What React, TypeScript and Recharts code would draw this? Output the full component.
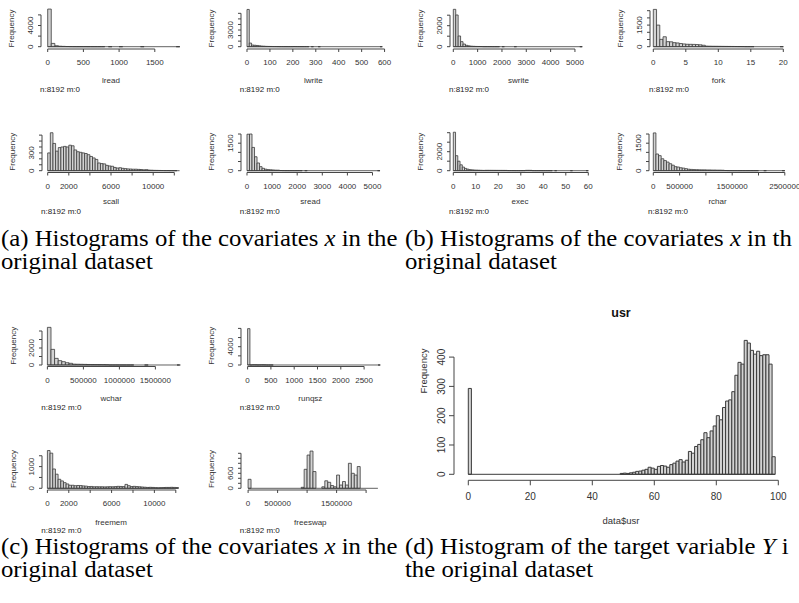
import React from 'react';
import { BarChart, Bar, XAxis, YAxis, ReferenceLine } from 'recharts';

const SANS = '"Liberation Sans", Arial, sans-serif';
const SERIF = '"Liberation Serif", "Times New Roman", serif';
const AXIS = '#444';
const INK = '#333';
const FILL = '#d3d3d3';
const EDGE = '#3a3a3a';

// bin counts (R hist output)
const lreadCounts = [7100, 620, 180, 90, 60, 30, 15, 10, 6, 4, 3, 2, 2, 1, 1, 1, 0, 1, 0, 0, 1, 0, 0, 0, 0, 0, 1, 0, 0, 0, 0, 0, 0, 0, 0, 0, 1];
const lwriteCounts = [6700, 650, 300, 260, 220, 170, 110, 90, 60, 50, 40, 30, 25, 18, 10, 8, 6, 5, 4, 5, 14, 8, 3, 2, 1, 1, 1, 0, 1, 0, 0, 1, 0, 0, 0, 0, 0, 0, 0, 0, 0, 0, 0, 0, 0, 0, 0, 0, 0, 0, 0, 0, 0, 0, 0, 0, 0, 0, 1];
const swriteCounts = [3560, 3020, 1020, 480, 250, 130, 80, 50, 35, 25, 20, 15, 5, 3, 2, 2, 1, 1, 1, 0, 1, 0, 0, 0, 0, 1, 0, 0, 0, 0, 0, 0, 0, 0, 0, 0, 0, 0, 0, 0, 0, 0, 0, 0, 0, 0, 0, 0, 0, 0, 0, 0, 1];
const forkCounts = [2590, 1500, 510, 690, 350, 340, 280, 260, 220, 190, 170, 165, 160, 150, 130, 100, 40, 35, 30, 28, 25, 22, 20, 18, 15, 12, 10, 8, 2, 1, 1, 0, 0, 0, 0, 0, 0, 0, 0, 1];
const scallCounts = [300, 640, 460, 330, 390, 400, 410, 400, 430, 420, 350, 320, 310, 300, 290, 270, 240, 215, 190, 130, 120, 115, 90, 80, 75, 55, 45, 50, 40, 35, 30, 28, 25, 25, 22, 20, 15, 18, 10, 8, 6, 5, 4, 3, 2, 2, 1, 1, 1, 0];
const sreadCounts = [1990, 2000, 1270, 760, 420, 220, 130, 80, 60, 50, 40, 30, 28, 10, 5, 3, 2, 2, 1, 1, 1, 1, 0, 1, 0, 0, 0, 0, 0, 0, 0, 0, 0, 0, 0, 0, 0, 0, 0, 0, 0, 0, 0, 0, 0, 0, 0, 0, 0, 0, 0, 0, 1];
const execCounts = [4050, 1580, 1000, 620, 380, 240, 160, 110, 90, 70, 60, 50, 40, 30, 40, 42, 40, 38, 36, 35, 34, 33, 32, 30, 12, 10, 8, 6, 5, 4, 4, 5, 38, 40, 36, 5, 3, 2, 2, 1, 1, 1, 1, 1, 0, 1, 0, 0, 0, 0, 0, 0, 1, 0, 0, 0, 0, 0, 0, 1];
const rcharCounts = [2060, 910, 820, 650, 550, 470, 380, 300, 220, 200, 160, 140, 110, 80, 70, 60, 55, 50, 45, 45, 40, 40, 35, 35, 30, 30, 25, 10, 5, 4, 3, 3, 2, 2, 1, 1, 1, 1, 1, 1, 0, 0, 1, 0, 0, 0, 0, 0, 0, 1];
const wcharCounts = [4430, 1840, 780, 510, 390, 270, 200, 100, 90, 80, 70, 60, 55, 50, 45, 40, 30, 5, 3, 2, 1, 1, 1, 1, 0, 0, 0, 1, 0, 0, 0, 0, 0, 0, 0, 0, 1];
const runqszCounts = [7950, 5, 50, 40, 15, 30, 40, 25, 3, 1, 1, 0, 0, 0, 0, 0, 0, 0, 0, 0, 0, 0, 0, 0, 0, 0, 0, 0, 0, 0, 0, 0, 0, 0, 0, 0, 0, 0, 0, 0, 0, 0, 0, 0, 0, 0, 0, 0, 0, 0, 0, 0, 0, 0, 0, 0, 1];
const freememCounts = [1740, 1620, 890, 650, 415, 340, 260, 200, 140, 140, 120, 130, 125, 110, 100, 80, 85, 70, 75, 70, 70, 65, 70, 75, 70, 80, 90, 85, 80, 180, 120, 80, 90, 80, 70, 60, 50, 40, 45, 40, 30, 25, 30, 35, 40, 40, 45, 40, 35];
const freeswapCounts = [360, 0, 0, 0, 0, 0, 0, 0, 0, 0, 0, 0, 0, 0, 0, 0, 0, 0, 40, 760, 1330, 1490, 670, 0, 0, 60, 300, 240, 110, 60, 530, 130, 270, 130, 1000, 600, 530, 870, 0, 0, 0, 0, 0, 0];
const usrCounts = [293, 0, 0, 0, 0, 0, 0, 0, 0, 0, 0, 0, 0, 0, 0, 0, 0, 0, 0, 0, 0, 0, 0, 0, 0, 0, 0, 0, 0, 0, 0, 0, 0, 0, 0, 0, 0, 0, 0, 0, 0, 0, 0, 0, 0, 0, 0, 0, 0,
  3, 4, 3, 5, 7, 10, 11, 14, 17, 24, 21, 17, 27, 30, 28, 24, 33, 38, 45, 50, 42, 48, 78, 72, 95, 102, 118, 142, 125, 148,
  165, 200, 186, 228, 250, 254, 282, 338, 382, 376, 457, 448, 423, 410, 420, 405, 408, 408, 376, 60];

// tick values and which of them R printed
const lreadXTicks = [0, 500, 1000, 1500];
const lreadYTicks = [0, 2000, 4000, 6000];
const lreadYLabels = [0, 4000];
const lwriteXTicks = [0, 100, 200, 300, 400, 500, 600];
const lwriteYTicks = [0, 1000, 2000, 3000, 4000, 5000, 6000];
const lwriteYLabels = [0, 3000];
const swriteXTicks = [0, 1000, 2000, 3000, 4000, 5000];
const swriteYTicks = [0, 1000, 2000, 3000];
const swriteYLabels = [0, 2000];
const forkXTicks = [0, 5, 10, 15, 20];
const forkYTicks = [0, 500, 1000, 1500, 2000, 2500];
const forkYLabels = [0, 1500];
const scallXTicks = [0, 2000, 4000, 6000, 8000, 10000, 12000];
const scallXLabels = [0, 2000, 6000, 10000];
const scallYTicks = [0, 100, 200, 300, 400, 500, 600];
const scallYLabels = [0, 300];
const sreadXTicks = [0, 1000, 2000, 3000, 4000, 5000];
const sreadYTicks = [0, 500, 1000, 1500, 2000];
const sreadYLabels = [0, 1500];
const execXTicks = [0, 10, 20, 30, 40, 50, 60];
const execYTicks = [0, 1000, 2000, 3000, 4000];
const execYLabels = [0, 2000];
const rcharXTicks = [0, 500000, 1000000, 1500000, 2000000, 2500000];
const rcharXLabels = [0, 500000, 1500000, 2500000];
const rcharYTicks = [0, 500, 1000, 1500, 2000];
const rcharYLabels = [0, 1500];
const wcharXTicks = [0, 500000, 1000000, 1500000];
const wcharYTicks = [0, 1000, 2000, 3000, 4000];
const wcharYLabels = [0, 2000];
const runqszXTicks = [0, 500, 1000, 1500, 2000, 2500];
const runqszYTicks = [0, 2000, 4000, 6000, 8000];
const runqszYLabels = [0, 4000];
const freememXTicks = [0, 2000, 4000, 6000, 8000, 10000, 12000];
const freememXLabels = [0, 2000, 6000, 10000];
const freememYTicks = [0, 500, 1000, 1500];
const freememYLabels = [0, 1000];
const freeswapXTicks = [0, 500000, 1000000, 1500000, 2000000];
const freeswapXLabels = [0, 500000, 1500000];
const freeswapYTicks = [0, 200, 400, 600, 800, 1000, 1200, 1400];
const freeswapYLabels = [0, 600];
const usrXTicks = [0, 20, 40, 60, 80, 100];
const usrYTicks = [0, 100, 200, 300, 400];

type Frame = { L: number; T: number; R: number; B: number; x0: number; kx: number; y0: number; ky: number };

type HistProps = {
  counts: number[];
  start: number;
  binWidth: number;
  xTicks: number[];
  xLabels?: number[];
  yTicks: number[];
  yLabels?: number[];
  frame: Frame;
  fontSize: number;
  tick: number;
  xMargin: number;
  yMargin: number;
  edge: number;
};

function Hist({ counts, start, binWidth, xTicks, xLabels, yTicks, yLabels, frame, fontSize, tick, xMargin, yMargin, edge }: HistProps) {
  const { L, T, R, B, x0, kx, y0, ky } = frame;
  const xDomain = [(L - x0) / kx, (R - x0) / kx];
  const yDomain = [-(B - y0) / ky, (y0 - T) / ky];
  const data = counts.map((c, i) => ({ mid: start + binWidth * (i + 0.5), count: c }));
  const end = start + binWidth * counts.length;
  const padL = 40, padT = 4, padR = 24, padB = 28;
  const xShown = xLabels ?? xTicks;
  const yShown = yLabels ?? yTicks;

  const yTick = (p: any) => {
    const { x, y, payload } = p;
    if (!yShown.includes(payload.value)) return <g />;
    return (
      <text x={x} y={y} transform={`rotate(-90, ${x}, ${y})`} textAnchor="middle" fontSize={fontSize} fontFamily={SANS} fill={INK}>
        {String(payload.value)}
      </text>
    );
  };

  return (
    <div style={{ position: 'absolute', left: L - padL, top: T - padT }}>
      <BarChart
        width={R - L + padL + padR}
        height={B - T + padT + padB}
        data={data}
        margin={{ top: padT, right: padR, left: 0, bottom: 0 }}
        barCategoryGap={0}
        barGap={0}
      >
        <XAxis
          dataKey="mid"
          type="number"
          domain={xDomain}
          allowDataOverflow
          ticks={xTicks}
          interval={0}
          axisLine={false}
          tickLine={{ stroke: AXIS }}
          tickSize={tick}
          tickMargin={xMargin}
          height={padB}
          tick={{ fontSize, fill: INK, fontFamily: SANS }}
          tickFormatter={(v: number) => (xShown.includes(v) ? String(v) : '')}
        />
        <YAxis
          type="number"
          domain={yDomain}
          allowDataOverflow
          ticks={yTicks}
          interval={0}
          axisLine={false}
          tickLine={{ stroke: AXIS }}
          tickSize={tick}
          tickMargin={yMargin}
          width={padL}
          tick={yTick}
        />
        <ReferenceLine segment={[{ x: xTicks[0], y: yDomain[0] }, { x: xTicks[xTicks.length - 1], y: yDomain[0] }]} stroke={AXIS} ifOverflow="visible" />
        <ReferenceLine segment={[{ x: xDomain[0], y: yTicks[0] }, { x: xDomain[0], y: yTicks[yTicks.length - 1] }]} stroke={AXIS} ifOverflow="visible" />
        <ReferenceLine segment={[{ x: start, y: 0 }, { x: end, y: 0 }]} stroke={EDGE} strokeWidth={edge} ifOverflow="visible" />
        <Bar dataKey="count" fill={FILL} stroke={EDGE} strokeWidth={edge} barSize={binWidth * kx - 0.01} isAnimationActive={false} />
      </BarChart>
    </div>
  );
}

const small = { fontSize: 8, tick: 3, xMargin: 7.5, yMargin: 5.2, edge: 0.8 };

const panels = [
  { name: 'lread', counts: lreadCounts, start: 0, binWidth: 50, xTicks: lreadXTicks, yTicks: lreadYTicks, yLabels: lreadYLabels,
    frame: { L: 41, T: 8, R: 181, B: 49, x0: 47.7, kx: 0.0714, y0: 46.7, ky: 0.0053 }, labelY: 83, nY: 92 },
  { name: 'lwrite', counts: lwriteCounts, start: 0, binWidth: 10, xTicks: lwriteXTicks, yTicks: lwriteYTicks, yLabels: lwriteYLabels,
    frame: { L: 240.7, T: 8, R: 386, B: 49, x0: 246.7, kx: 0.2293, y0: 46.7, ky: 0.00556 }, labelY: 83, nY: 92 },
  { name: 'swrite', counts: swriteCounts, start: 0, binWidth: 100, xTicks: swriteXTicks, yTicks: swriteYTicks, yLabels: swriteYLabels,
    frame: { L: 450, T: 8, R: 587, B: 49, x0: 453.3, kx: 0.02433, y0: 46.7, ky: 0.0105 }, labelY: 83, nY: 92 },
  { name: 'fork', counts: forkCounts, start: 0, binWidth: 0.5, xTicks: forkXTicks, yTicks: forkYTicks, yLabels: forkYLabels,
    frame: { L: 650, T: 8, R: 787, B: 49, x0: 653.3, kx: 6.5, y0: 46.7, ky: 0.0144 }, labelY: 83, nY: 92 },
  { name: 'scall', counts: scallCounts, start: 0, binWidth: 250, xTicks: scallXTicks, xLabels: scallXLabels, yTicks: scallYTicks, yLabels: scallYLabels,
    frame: { L: 42, T: 131, R: 180, B: 172.5, x0: 47.7, kx: 0.01055, y0: 170.7, ky: 0.0593 }, labelY: 204, nY: 214 },
  { name: 'sread', counts: sreadCounts, start: 0, binWidth: 100, xTicks: sreadXTicks, yTicks: sreadYTicks, yLabels: sreadYLabels,
    frame: { L: 240.7, T: 131, R: 380, B: 172.5, x0: 246.7, kx: 0.0251, y0: 170.7, ky: 0.01834 }, labelY: 204, nY: 214 },
  { name: 'exec', counts: execCounts, start: 0, binWidth: 1, xTicks: execXTicks, yTicks: execYTicks, yLabels: execYLabels,
    frame: { L: 450, T: 131, R: 590, B: 172.5, x0: 453.3, kx: 2.25, y0: 170.7, ky: 0.0095 }, labelY: 204, nY: 214 },
  { name: 'rchar', counts: rcharCounts, start: 0, binWidth: 50000, xTicks: rcharXTicks, xLabels: rcharXLabels, yTicks: rcharYTicks, yLabels: rcharYLabels,
    frame: { L: 649, T: 131, R: 786, B: 172.5, x0: 653.3, kx: 0.0000526, y0: 170.7, ky: 0.01834 }, labelY: 204, nY: 214 },
  { name: 'wchar', counts: wcharCounts, start: 0, binWidth: 50000, xTicks: wcharXTicks, yTicks: wcharYTicks, yLabels: wcharYLabels,
    frame: { L: 42.3, T: 325, R: 180, B: 366.5, x0: 47.7, kx: 0.000072, y0: 365, ky: 0.0085 }, labelY: 401, nY: 410 },
  { name: 'runqsz', counts: runqszCounts, start: 0, binWidth: 50, xTicks: runqszXTicks, yTicks: runqszYTicks, yLabels: runqszYLabels,
    frame: { L: 240.7, T: 325, R: 380, B: 366.5, x0: 247.3, kx: 0.0466, y0: 365, ky: 0.004575 }, labelY: 401, nY: 410 },
  { name: 'freemem', counts: freememCounts, start: 0, binWidth: 250, xTicks: freememXTicks, xLabels: freememXLabels, yTicks: freememYTicks, yLabels: freememYLabels,
    frame: { L: 42.3, T: 448, R: 180, B: 490, x0: 47.7, kx: 0.0107, y0: 488.3, ky: 0.0217 }, labelY: 524.5, nY: 533 },
  { name: 'freeswap', counts: freeswapCounts, start: 0, binWidth: 50000, xTicks: freeswapXTicks, xLabels: freeswapXLabels, yTicks: freeswapYTicks, yLabels: freeswapYLabels,
    frame: { L: 240.7, T: 448, R: 380, B: 490, x0: 247.8, kx: 0.000059, y0: 488.3, ky: 0.025 }, labelY: 524.5, nY: 533 },
];

const usrFrame = { L: 454, T: 334.7, R: 787.5, B: 480, x0: 468.3, kx: 3.1, y0: 474, ky: 0.293 };

function Caption({ x, y, children }: { x: number; y: number; children: React.ReactNode }) {
  return (
    <text transform={`translate(${x}, ${y}) scale(1.1, 1)`} fontFamily={SERIF} fontSize={22.5} fill="#000">
      {children}
    </text>
  );
}

export default function App() {
  return (
    <div style={{ position: 'absolute', left: 0, top: 0, width: 799, height: 603, background: '#fff', overflow: 'hidden' }}>
      {panels.map((p) => (
        <Hist key={p.name} counts={p.counts} start={p.start} binWidth={p.binWidth} xTicks={p.xTicks} xLabels={(p as any).xLabels}
          yTicks={p.yTicks} yLabels={p.yLabels} frame={p.frame} {...small} />
      ))}
      <Hist counts={usrCounts} start={0} binWidth={1} xTicks={usrXTicks} yTicks={usrYTicks} frame={usrFrame}
        fontSize={10} tick={5} xMargin={8} yMargin={3.7} edge={1} />
      <svg width={799} height={603} style={{ position: 'absolute', left: 0, top: 0, pointerEvents: 'none' }}>
        {panels.map((p) => {
          const { L, T, R, B } = p.frame;
          const cx = (L + R) / 2;
          const cy = (T + B) / 2;
          const fx = L - 26.7;
          return (
            <g key={p.name} fontFamily={SANS} fontSize={8} fill={INK}>
              <text x={fx} y={cy} transform={`rotate(-90, ${fx}, ${cy})`} textAnchor="middle">Frequency</text>
              <text x={cx} y={p.labelY} textAnchor="middle">{p.name}</text>
              <text x={L - 1} y={p.nY} fill="#222">n:8192 m:0</text>
            </g>
          );
        })}
        <g fontFamily={SANS} fill={INK}>
          <text x={621} y={317} textAnchor="middle" fontSize={12.5} fontWeight="bold" fill="#111">usr</text>
          <text x={621} y={523.5} textAnchor="middle" fontSize={9.5}>data$usr</text>
          <text x={426.5} y={371} transform="rotate(-90, 426.5, 371)" textAnchor="middle" fontSize={9.5}>Frequency</text>
        </g>
        <Caption x={1} y={246}>(a) Histograms of the covariates <tspan fontStyle="italic">x</tspan> in the</Caption>
        <Caption x={1} y={269}>original dataset</Caption>
        <Caption x={405} y={246}>(b) Histograms of the covariates <tspan fontStyle="italic">x</tspan> in th</Caption>
        <Caption x={405} y={269}>original dataset</Caption>
        <Caption x={1} y={554}>(c) Histograms of the covariates <tspan fontStyle="italic">x</tspan> in the</Caption>
        <Caption x={1} y={577}>original dataset</Caption>
        <Caption x={405} y={554}>(d) Histogram of the target variable <tspan fontStyle="italic">Y</tspan> i</Caption>
        <Caption x={405} y={577}>the original dataset</Caption>
      </svg>
    </div>
  );
}
